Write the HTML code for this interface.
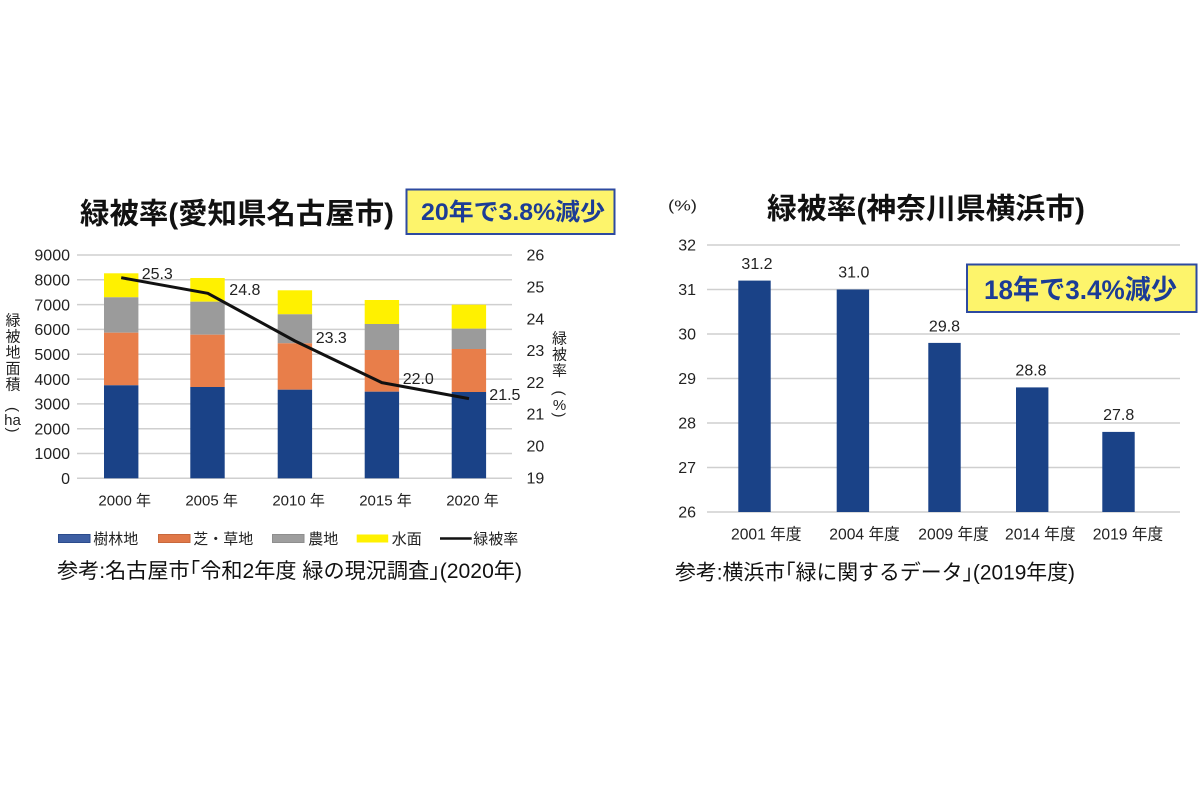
<!DOCTYPE html>
<html><head><meta charset="utf-8">
<style>
html,body{margin:0;padding:0;background:#fff;}
svg{display:block;}
text{font-family:"Liberation Sans","Noto Sans CJK JP",sans-serif;fill:#222;}
.b{font-weight:bold;}
text.bl{fill:#1c3c96;}
text.dk{fill:#111;}
</style></head>
<body>
<svg width="1200" height="800" viewBox="0 0 1200 800" xmlns="http://www.w3.org/2000/svg">
<rect width="1200" height="800" fill="#fff"/>

<!-- ============ LEFT CHART ============ -->
<text class="b dk" x="80" y="223.5" font-size="29" textLength="314" lengthAdjust="spacingAndGlyphs">緑被率(愛知県名古屋市)</text>
<rect x="406.5" y="189.5" width="208" height="44.5" fill="#fdf46b" stroke="#2d4aa0" stroke-width="2"/>
<text class="b bl" x="421" y="220" font-size="24" textLength="184" lengthAdjust="spacingAndGlyphs">20年で3.8%減少</text>

<!-- gridlines -->
<g stroke="#cfcfcf" stroke-width="1.5">
<line x1="77" y1="255" x2="512" y2="255"/>
<line x1="77" y1="279.8" x2="512" y2="279.8"/>
<line x1="77" y1="304.6" x2="512" y2="304.6"/>
<line x1="77" y1="329.4" x2="512" y2="329.4"/>
<line x1="77" y1="354.2" x2="512" y2="354.2"/>
<line x1="77" y1="379.1" x2="512" y2="379.1"/>
<line x1="77" y1="403.9" x2="512" y2="403.9"/>
<line x1="77" y1="428.7" x2="512" y2="428.7"/>
<line x1="77" y1="453.5" x2="512" y2="453.5"/>
<line x1="77" y1="478.3" x2="512" y2="478.3"/>
</g>
<!-- left axis labels -->
<g font-size="16" text-anchor="end">
<text x="70" y="260.7">9000</text>
<text x="70" y="285.5">8000</text>
<text x="70" y="310.3">7000</text>
<text x="70" y="335.1">6000</text>
<text x="70" y="359.9">5000</text>
<text x="70" y="384.8">4000</text>
<text x="70" y="409.6">3000</text>
<text x="70" y="434.4">2000</text>
<text x="70" y="459.2">1000</text>
<text x="70" y="484">0</text>
</g>
<!-- right axis labels -->
<g font-size="16">
<text x="526.5" y="260.7">26</text>
<text x="526.5" y="292.5">25</text>
<text x="526.5" y="324.3">24</text>
<text x="526.5" y="356.1">23</text>
<text x="526.5" y="387.9">22</text>
<text x="526.5" y="419.7">21</text>
<text x="526.5" y="451.5">20</text>
<text x="526.5" y="483.3">19</text>
</g>

<!-- stacked bars -->
<g>
<rect x="104" y="273.3" width="34.4" height="24" fill="#fff100"/>
<rect x="104" y="297.3" width="34.4" height="35.4" fill="#9b9b9b"/>
<rect x="104" y="332.7" width="34.4" height="52.6" fill="#e87e4a"/>
<rect x="104" y="385.3" width="34.4" height="93" fill="#1a4287"/>

<rect x="190.3" y="278" width="34.4" height="23.7" fill="#fff100"/>
<rect x="190.3" y="301.7" width="34.4" height="33" fill="#9b9b9b"/>
<rect x="190.3" y="334.7" width="34.4" height="52.3" fill="#e87e4a"/>
<rect x="190.3" y="387" width="34.4" height="91.3" fill="#1a4287"/>

<rect x="277.7" y="290.3" width="34.4" height="24" fill="#fff100"/>
<rect x="277.7" y="314.3" width="34.4" height="29" fill="#9b9b9b"/>
<rect x="277.7" y="343.3" width="34.4" height="46.4" fill="#e87e4a"/>
<rect x="277.7" y="389.7" width="34.4" height="88.6" fill="#1a4287"/>

<rect x="364.7" y="300" width="34.4" height="24" fill="#fff100"/>
<rect x="364.7" y="324" width="34.4" height="26" fill="#9b9b9b"/>
<rect x="364.7" y="350" width="34.4" height="41.7" fill="#e87e4a"/>
<rect x="364.7" y="391.7" width="34.4" height="86.6" fill="#1a4287"/>

<rect x="451.7" y="304.7" width="34.4" height="24" fill="#fff100"/>
<rect x="451.7" y="328.7" width="34.4" height="20.3" fill="#9b9b9b"/>
<rect x="451.7" y="349" width="34.4" height="43" fill="#e87e4a"/>
<rect x="451.7" y="392" width="34.4" height="86.3" fill="#1a4287"/>
</g>

<!-- line -->
<polyline points="121.2,277.7 207.8,293.3 295,341 381.8,382.6 469,398.6" fill="none" stroke="#111" stroke-width="3" stroke-linejoin="round"/>
<g font-size="16">
<text x="141.7" y="279">25.3</text>
<text x="229.3" y="295">24.8</text>
<text x="315.7" y="343">23.3</text>
<text x="402.7" y="384">22.0</text>
<text x="489.3" y="400">21.5</text>
</g>

<!-- x labels -->
<g font-size="15" text-anchor="middle">
<text x="124.7" y="505.5">2000 年</text>
<text x="211.6" y="505.5">2005 年</text>
<text x="298.6" y="505.5">2010 年</text>
<text x="385.5" y="505.5">2015 年</text>
<text x="472.5" y="505.5">2020 年</text>
</g>

<!-- left vertical axis title -->
<g font-size="15" text-anchor="middle">
<text x="13" y="325.7">緑</text>
<text x="13" y="341.7">被</text>
<text x="13" y="357.7">地</text>
<text x="13" y="373.7">面</text>
<text x="13" y="389.7">積</text>
<text x="13" y="414.5" transform="rotate(90 13 409.5)">(</text>
<text x="12.5" y="425">ha</text>
<text x="13" y="435" transform="rotate(90 13 430)">)</text>
</g>
<!-- right vertical axis title -->
<g font-size="15" text-anchor="middle">
<text x="559.5" y="343.7">緑</text>
<text x="559.5" y="359.7">被</text>
<text x="559.5" y="375.7">率</text>
<text x="559.5" y="398" transform="rotate(90 559.5 393)">(</text>
<text x="559.5" y="410">%</text>
<text x="559.5" y="420" transform="rotate(90 559.5 415)">)</text>
</g>

<!-- legend -->
<rect x="58.5" y="534.5" width="31.5" height="8" fill="#3e5fa3" stroke="#2b4b8c" stroke-width="1"/>
<rect x="158.5" y="534.5" width="31.5" height="8" fill="#e07848" stroke="#c8683c" stroke-width="1"/>
<rect x="272.5" y="534.5" width="31.5" height="8" fill="#9e9e9e" stroke="#8e8e8e" stroke-width="1"/>
<rect x="356.7" y="534.5" width="31.5" height="8" fill="#fff100"/>
<line x1="440" y1="538.5" x2="471.7" y2="538.5" stroke="#111" stroke-width="2.5"/>
<g font-size="15">
<text x="93.3" y="544">樹林地</text>
<text x="193.3" y="544">芝・草地</text>
<text x="308.3" y="544">農地</text>
<text x="391.7" y="544">水面</text>
<text x="473.3" y="544">緑被率</text>
</g>

<text class="dk" x="57" y="578" font-size="21" textLength="465" lengthAdjust="spacingAndGlyphs">参考:名古屋市｢令和2年度 緑の現況調査｣(2020年)</text>

<!-- ============ RIGHT CHART ============ -->
<text x="668" y="210.5" font-size="15" textLength="29" lengthAdjust="spacingAndGlyphs">(%)</text>
<text class="b dk" x="767" y="218.5" font-size="29" textLength="318" lengthAdjust="spacingAndGlyphs">緑被率(神奈川県横浜市)</text>

<g stroke="#cfcfcf" stroke-width="1.5">
<line x1="707" y1="245" x2="1180" y2="245"/>
<line x1="707" y1="289.5" x2="1180" y2="289.5"/>
<line x1="707" y1="334" x2="1180" y2="334"/>
<line x1="707" y1="378.5" x2="1180" y2="378.5"/>
<line x1="707" y1="423" x2="1180" y2="423"/>
<line x1="707" y1="467.5" x2="1180" y2="467.5"/>
<line x1="707" y1="512" x2="1180" y2="512"/>
</g>
<g font-size="16" text-anchor="end">
<text x="696" y="250.7">32</text>
<text x="696" y="295.2">31</text>
<text x="696" y="339.7">30</text>
<text x="696" y="384.2">29</text>
<text x="696" y="428.7">28</text>
<text x="696" y="473.2">27</text>
<text x="696" y="517.7">26</text>
</g>

<g fill="#1a4287">
<rect x="738.3" y="280.6" width="32.4" height="231.4"/>
<rect x="836.7" y="289.5" width="32.4" height="222.5"/>
<rect x="928.3" y="342.9" width="32.4" height="169.1"/>
<rect x="1016" y="387.4" width="32.4" height="124.6"/>
<rect x="1102.3" y="431.9" width="32.4" height="80.1"/>
</g>
<g font-size="16" text-anchor="middle">
<text x="757" y="269">31.2</text>
<text x="853.8" y="277.7">31.0</text>
<text x="944.5" y="331.7">29.8</text>
<text x="1031" y="375.7">28.8</text>
<text x="1118.7" y="420">27.8</text>
</g>
<g font-size="16">
<text x="731" y="539.7" textLength="70.5" lengthAdjust="spacingAndGlyphs">2001 年度</text>
<text x="829.3" y="539.7" textLength="70.5" lengthAdjust="spacingAndGlyphs">2004 年度</text>
<text x="918.3" y="539.7" textLength="70.5" lengthAdjust="spacingAndGlyphs">2009 年度</text>
<text x="1005" y="539.7" textLength="70.5" lengthAdjust="spacingAndGlyphs">2014 年度</text>
<text x="1092.7" y="539.7" textLength="70.5" lengthAdjust="spacingAndGlyphs">2019 年度</text>
</g>

<rect x="967" y="264.5" width="229.5" height="47.5" fill="#fdf46b" stroke="#2d4aa0" stroke-width="2"/>
<text class="b bl" x="984" y="299" font-size="27" textLength="193" lengthAdjust="spacingAndGlyphs">18年で3.4%減少</text>

<text class="dk" x="675" y="579.5" font-size="21" textLength="400" lengthAdjust="spacingAndGlyphs">参考:横浜市｢緑に関するデータ｣(2019年度)</text>
</svg>
</body></html>
